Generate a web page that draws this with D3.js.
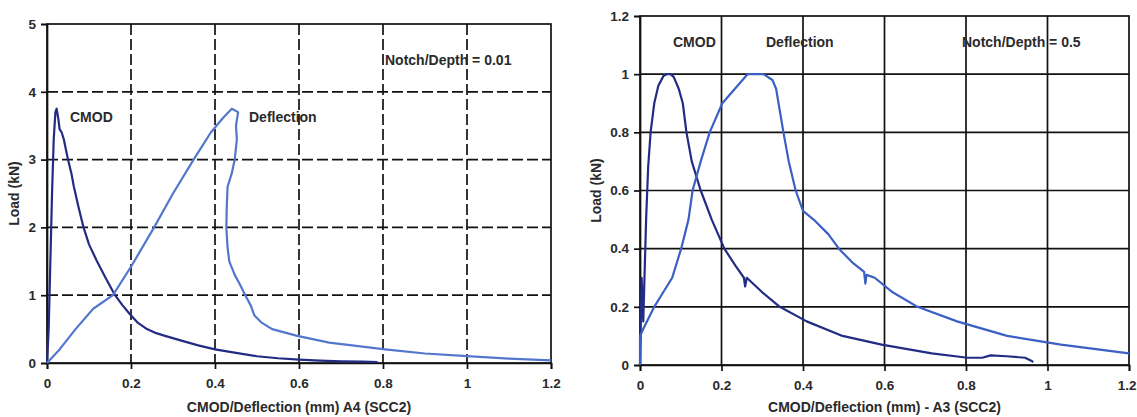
<!DOCTYPE html>
<html>
<head>
<meta charset="utf-8">
<script src="https://cdn.jsdelivr.net/npm/d3@7"></script>
<style>
  body { margin: 0; background: #fff; }
  svg { font-family: "Liberation Sans", Arial, sans-serif; }
  .tick text { font-size: 13.5px; font-weight: bold; fill: #2a2a2a; }
  .lbl { font-size: 14px; font-weight: bold; fill: #2a2a2a; }
</style>
</head>
<body>
<div id="graf"></div>
<script>
// ---- datos ----
const xTicks = [0, 0.2, 0.4, 0.6, 0.8, 1, 1.2]
const yTicksA4 = [0, 1, 2, 3, 4, 5]
const yTicksA3 = [0, 0.2, 0.4, 0.6, 0.8, 1, 1.2]

// A4, notch/depth = 0.01
const cmodA4 = [
  [0, 0], [0.004, 0.5], [0.008, 1.5], [0.012, 2.5], [0.016, 3.3], [0.02, 3.7],
  [0.023, 3.75], [0.027, 3.6], [0.03, 3.45], [0.035, 3.4], [0.04, 3.3], [0.045, 3.15],
  [0.05, 3.0], [0.058, 2.8], [0.064, 2.6], [0.075, 2.3], [0.087, 2.0], [0.1, 1.75],
  [0.119, 1.5], [0.14, 1.25], [0.162, 1.0], [0.18, 0.85], [0.196, 0.73], [0.215, 0.6],
  [0.238, 0.5], [0.26, 0.44], [0.281, 0.4], [0.32, 0.33], [0.36, 0.26], [0.4, 0.2],
  [0.45, 0.15], [0.5, 0.1], [0.55, 0.07], [0.6, 0.05], [0.65, 0.035], [0.7, 0.025],
  [0.75, 0.02], [0.787, 0.015]
]
const deflA4 = [
  [0, 0], [0.03, 0.2], [0.068, 0.5], [0.11, 0.8], [0.157, 1.0], [0.2, 1.42],
  [0.255, 2.0], [0.3, 2.5], [0.349, 3.0], [0.39, 3.4], [0.42, 3.62], [0.44, 3.75],
  [0.455, 3.7], [0.45, 3.5], [0.452, 3.3], [0.447, 3.0], [0.44, 2.8], [0.43, 2.6],
  [0.428, 2.3], [0.427, 2.0], [0.43, 1.7], [0.434, 1.5], [0.447, 1.3], [0.46, 1.15],
  [0.472, 1.0], [0.485, 0.85], [0.494, 0.7], [0.51, 0.6], [0.536, 0.5], [0.596, 0.4],
  [0.672, 0.3], [0.805, 0.2], [0.9, 0.14], [1.0, 0.1], [1.1, 0.065], [1.2, 0.04]
]

// A3, notch/depth = 0.5
const cmodA3 = [
  [0, 0], [0.004, 0.3], [0.008, 0.15], [0.015, 0.5], [0.02, 0.68], [0.026, 0.8],
  [0.035, 0.9], [0.045, 0.96], [0.058, 0.995], [0.066, 1.0], [0.075, 1.0], [0.083, 0.99],
  [0.095, 0.95], [0.105, 0.9], [0.114, 0.8], [0.127, 0.7], [0.149, 0.6], [0.176, 0.5],
  [0.207, 0.4], [0.235, 0.34], [0.255, 0.3], [0.258, 0.27], [0.262, 0.3], [0.3, 0.25],
  [0.343, 0.2], [0.409, 0.15], [0.497, 0.1], [0.593, 0.07], [0.716, 0.04], [0.804, 0.025],
  [0.84, 0.025], [0.86, 0.033], [0.9, 0.03], [0.945, 0.025], [0.96, 0.015], [0.965, 0.01]
]
const deflA3 = [
  [0, 0], [0, 0.1], [0.01, 0.13], [0.035, 0.2], [0.057, 0.25], [0.079, 0.3],
  [0.101, 0.4], [0.11, 0.45], [0.119, 0.5], [0.129, 0.6], [0.149, 0.7], [0.171, 0.8],
  [0.202, 0.9], [0.233, 0.95], [0.264, 1.0], [0.285, 1.0], [0.303, 1.0], [0.325, 0.98],
  [0.334, 0.95], [0.352, 0.8], [0.365, 0.7], [0.382, 0.6], [0.4, 0.53], [0.426, 0.5],
  [0.462, 0.45], [0.488, 0.4], [0.523, 0.35], [0.55, 0.32], [0.553, 0.28], [0.556, 0.31],
  [0.576, 0.3], [0.62, 0.25], [0.681, 0.2], [0.778, 0.15], [0.901, 0.1], [1.033, 0.07],
  [1.2, 0.04]
]

const colorCmod = '#222c84'
const colorDeflA4 = '#5277cc'
const colorDeflA3 = '#3b5fc4'

const svg = d3.select('#graf')
  .append('svg')
  .attr('width', 1137)
  .attr('height', 417)

function chart(cfg) {
  const x = d3.scaleLinear().domain([0, 1.2]).range([cfg.left, cfg.right])
  const y = d3.scaleLinear().domain([0, cfg.yMax]).range([cfg.bottom, cfg.top])
  const g = svg.append('g')

  // rejilla
  g.selectAll('.vgrid').data(xTicks.slice(1, -1)).enter()
    .append('line')
      .attr('x1', d => x(d)).attr('x2', d => x(d))
      .attr('y1', cfg.top).attr('y2', cfg.bottom)
      .attr('stroke', '#111').attr('stroke-width', 1.7)
      .attr('stroke-dasharray', cfg.dash)
  g.selectAll('.hgrid').data(cfg.yTicks.slice(1, -1)).enter()
    .append('line')
      .attr('x1', cfg.left).attr('x2', cfg.right)
      .attr('y1', d => y(d)).attr('y2', d => y(d))
      .attr('stroke', '#111').attr('stroke-width', 1.7)
      .attr('stroke-dasharray', cfg.dash)
  g.append('rect')
    .attr('x', cfg.left).attr('y', cfg.top)
    .attr('width', cfg.right - cfg.left).attr('height', cfg.bottom - cfg.top)
    .attr('fill', 'none').attr('stroke', '#111').attr('stroke-width', 1.7)

  // ejes
  const xAxis = g.append('g')
    .attr('transform', `translate(0, ${cfg.bottom})`)
    .call(d3.axisBottom(x).tickValues(xTicks).tickSize(6).tickPadding(9).tickFormat(d3.format('~g')))
  const yAxis = g.append('g')
    .attr('transform', `translate(${cfg.left}, 0)`)
    .call(d3.axisLeft(y).tickValues(cfg.yTicks).tickSize(6).tickPadding(5).tickFormat(d3.format('~g')))
  ;[xAxis, yAxis].forEach(a => {
    a.select('.domain').attr('stroke', '#111').attr('stroke-width', 1.7)
    a.selectAll('.tick line').attr('stroke', '#111').attr('stroke-width', 1.7)
  })
  // el ultimo rotulo pegado al borde de la pagina
  if (cfg.right > 1100) {
    xAxis.selectAll('.tick text')
      .filter(d => d === 1.2)
      .attr('text-anchor', 'end')
      .attr('dx', 7)
  }

  // curvas
  const line = d3.line().x(d => x(d[0])).y(d => y(d[1]))
  cfg.series.forEach(s => {
    g.append('path')
      .datum(s.data)
      .attr('d', line)
      .attr('fill', 'none')
      .attr('stroke', s.color)
      .attr('stroke-width', 2.2)
      .attr('stroke-linejoin', 'round')
  })

  // textos
  cfg.labels.forEach(l => {
    g.append('text').attr('class', 'lbl')
      .attr('x', l.x).attr('y', l.y)
      .text(l.t)
  })
  g.append('text').attr('class', 'lbl')
    .attr('x', (cfg.left + cfg.right) / 2).attr('y', 412)
    .attr('text-anchor', 'middle')
    .text(cfg.xTitle)
  g.append('text').attr('class', 'lbl')
    .attr('transform', `translate(${cfg.yTitleX}, ${(cfg.top + cfg.bottom) / 2}) rotate(-90)`)
    .attr('text-anchor', 'middle')
    .text('Load (kN)')
}

chart({
  left: 47, right: 551, top: 24, bottom: 363,
  yMax: 5, yTicks: yTicksA4, dash: '11,4',
  xTitle: 'CMOD/Deflection (mm) A4 (SCC2)', yTitleX: 19,
  series: [{ data: cmodA4, color: colorCmod }, { data: deflA4, color: colorDeflA4 }],
  labels: [
    { t: 'Notch/Depth = 0.01', x: 385, y: 65 },
    { t: 'CMOD', x: 70, y: 122 },
    { t: 'Deflection', x: 249, y: 122 }
  ]
})

chart({
  left: 640, right: 1129, top: 16, bottom: 365,
  yMax: 1.2, yTicks: yTicksA3, dash: null,
  xTitle: 'CMOD/Deflection (mm) - A3 (SCC2)', yTitleX: 601,
  series: [{ data: cmodA3, color: colorCmod }, { data: deflA3, color: colorDeflA3 }],
  labels: [
    { t: 'CMOD', x: 673, y: 47 },
    { t: 'Deflection', x: 766, y: 47 },
    { t: 'Notch/Depth = 0.5', x: 962, y: 47 }
  ]
})
</script>
</body>
</html>
